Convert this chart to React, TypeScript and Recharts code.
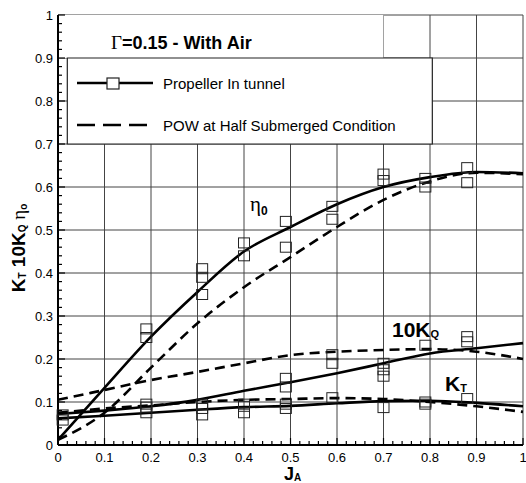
import {
  CartesianGrid,
  ComposedChart,
  Line,
  ReferenceArea,
  Scatter,
  XAxis,
  YAxis,
} from "recharts";

// advance coefficient samples used for the fitted curves
const jGrid = [0, 0.1, 0.2, 0.3, 0.4, 0.5, 0.6, 0.7, 0.8, 0.9, 1.0];

// fitted curves, propeller in tunnel (solid)
const etaTunnel = [0.012, 0.133, 0.252, 0.356, 0.45, 0.507, 0.56, 0.6, 0.623, 0.635, 0.632];
const kq10Tunnel = [0.072, 0.08, 0.09, 0.105, 0.126, 0.146, 0.167, 0.19, 0.213, 0.225, 0.237];
const ktTunnel = [0.062, 0.068, 0.075, 0.082, 0.088, 0.091, 0.097, 0.102, 0.103, 0.098, 0.09];

// POW at half submerged condition (dashed)
const etaPow = [0.012, 0.075, 0.18, 0.283, 0.367, 0.437, 0.507, 0.57, 0.613, 0.633, 0.63];
const kq10Pow = [0.105, 0.128, 0.151, 0.17, 0.19, 0.209, 0.217, 0.221, 0.223, 0.217, 0.2];
const ktPow = [0.075, 0.085, 0.092, 0.1, 0.105, 0.107, 0.109, 0.107, 0.1, 0.09, 0.077];

// measured points (open squares)
const etaPtsJ = [0.19, 0.19, 0.31, 0.31, 0.31, 0.4, 0.4, 0.49, 0.49, 0.59, 0.59, 0.7, 0.7, 0.79, 0.79, 0.88, 0.88];
const etaPtsV = [0.27, 0.25, 0.41, 0.39, 0.35, 0.47, 0.44, 0.52, 0.46, 0.555, 0.525, 0.63, 0.615, 0.62, 0.6, 0.645, 0.61];
const kqPtsJ = [0.19, 0.31, 0.4, 0.49, 0.49, 0.59, 0.59, 0.7, 0.7, 0.7, 0.79, 0.88, 0.88];
const kqPtsV = [0.095, 0.095, 0.095, 0.155, 0.135, 0.21, 0.19, 0.19, 0.175, 0.16, 0.232, 0.252, 0.24];
const ktPtsJ = [0.01, 0.01, 0.19, 0.19, 0.31, 0.31, 0.4, 0.4, 0.49, 0.49, 0.59, 0.7, 0.79, 0.79, 0.88];
const ktPtsV = [0.07, 0.058, 0.088, 0.075, 0.085, 0.07, 0.09, 0.075, 0.095, 0.085, 0.11, 0.087, 0.1, 0.095, 0.108];

const majorTicks = [0, 0.1, 0.2, 0.3, 0.4, 0.5, 0.6, 0.7, 0.8, 0.9, 1];
const allTicks = Array.from({ length: 51 }, (_, i) => i / 50);

const curve = (ys: number[]) => jGrid.map((x, i) => ({ x, y: ys[i] }));
const points = (js: number[], vs: number[]) => js.map((x, i) => ({ x, y: vs[i] }));
const markers = [
  ...points(etaPtsJ, etaPtsV),
  ...points(kqPtsJ, kqPtsV),
  ...points(ktPtsJ, ktPtsV),
];

const FONT = "'Liberation Sans', Arial, sans-serif";
const isMajor = (v: number) => Math.abs(v * 10 - Math.round(v * 10)) < 1e-6;
const fmt = (v: number) => String(+v.toFixed(1));

function BottomTick({ x, y, payload }: any) {
  const major = isMajor(payload.value);
  return (
    <g>
      <line x1={x} x2={x} y1={y} y2={y - (major ? 7 : 4)} stroke="#000" strokeWidth={1.2} />
      {major && (
        <text x={x} y={y + 17} textAnchor="middle" fontSize={13} fontFamily={FONT} fill="#000">
          {fmt(payload.value)}
        </text>
      )}
    </g>
  );
}

function TopTick({ x, y, payload }: any) {
  const major = isMajor(payload.value);
  return <line x1={x} x2={x} y1={y} y2={y + (major ? 7 : 4)} stroke="#000" strokeWidth={1.2} />;
}

function LeftTick({ x, y, payload }: any) {
  const major = isMajor(payload.value);
  return (
    <g>
      <line x1={x} x2={x + (major ? 7 : 4)} y1={y} y2={y} stroke="#000" strokeWidth={1.2} />
      {major && (
        <text x={x - 5} y={y + 4.5} textAnchor="end" fontSize={13} fontFamily={FONT} fill="#000">
          {fmt(payload.value)}
        </text>
      )}
    </g>
  );
}

function RightTick({ x, y, payload }: any) {
  const major = isMajor(payload.value);
  return <line x1={x} x2={x - (major ? 7 : 4)} y1={y} y2={y} stroke="#000" strokeWidth={1.2} />;
}

function Square({ cx, cy }: any) {
  return <rect x={cx - 5.5} y={cy - 5} width={11} height={10} fill="none" stroke="#222" strokeWidth={1} />;
}

export default function App() {
  return (
    <div style={{ position: "absolute", left: 0, top: 0, width: 526, height: 483, background: "#fff" }}>
      <ComposedChart width={526} height={483} margin={{ top: 15, right: 3, bottom: 0, left: 0 }}>
        <CartesianGrid stroke="#444" strokeWidth={1} horizontalValues={majorTicks} verticalValues={majorTicks} />
        <ReferenceArea x1={0} x2={0.7} y1={0.9} y2={1} fill="#fff" fillOpacity={1} stroke="none" />
        <ReferenceArea x1={0.02} x2={0.805} y1={0.7} y2={0.9} fill="#fff" fillOpacity={1} stroke="#222" strokeWidth={1.2} />
        <XAxis
          type="number"
          dataKey="x"
          domain={[0, 1]}
          ticks={allTicks}
          interval={0}
          height={38}
          tickSize={0}
          tickMargin={0}
          tickLine={false}
          tick={<BottomTick />}
          axisLine={{ stroke: "#000", strokeWidth: 2 }}
        />
        <XAxis
          xAxisId="top"
          orientation="top"
          type="number"
          dataKey="x"
          domain={[0, 1]}
          ticks={allTicks}
          interval={0}
          height={0}
          tickSize={0}
          tickMargin={0}
          tickLine={false}
          tick={<TopTick />}
          axisLine={{ stroke: "#000", strokeWidth: 2 }}
        />
        <YAxis
          type="number"
          domain={[0, 1]}
          ticks={allTicks}
          interval={0}
          width={58}
          tickSize={0}
          tickMargin={0}
          tickLine={false}
          tick={<LeftTick />}
          axisLine={{ stroke: "#000", strokeWidth: 2 }}
        />
        <YAxis
          yAxisId="right"
          orientation="right"
          type="number"
          domain={[0, 1]}
          ticks={allTicks}
          interval={0}
          width={0}
          tickSize={0}
          tickMargin={0}
          tickLine={false}
          tick={<RightTick />}
          axisLine={{ stroke: "#000", strokeWidth: 2 }}
        />
        <Line data={curve(etaTunnel)} dataKey="y" type="monotone" stroke="#000" strokeWidth={2.6} dot={false} isAnimationActive={false} />
        <Line data={curve(kq10Tunnel)} dataKey="y" type="monotone" stroke="#000" strokeWidth={2.6} dot={false} isAnimationActive={false} />
        <Line data={curve(ktTunnel)} dataKey="y" type="monotone" stroke="#000" strokeWidth={2.6} dot={false} isAnimationActive={false} />
        <Line data={curve(etaPow)} dataKey="y" type="monotone" stroke="#000" strokeWidth={2.6} strokeDasharray="10 6" dot={false} isAnimationActive={false} />
        <Line data={curve(kq10Pow)} dataKey="y" type="monotone" stroke="#000" strokeWidth={2.6} strokeDasharray="10 6" dot={false} isAnimationActive={false} />
        <Line data={curve(ktPow)} dataKey="y" type="monotone" stroke="#000" strokeWidth={2.6} strokeDasharray="10 6" dot={false} isAnimationActive={false} />
        <Scatter data={markers} dataKey="y" shape={<Square />} isAnimationActive={false} />
      </ComposedChart>

      <svg width={526} height={483} style={{ position: "absolute", left: 0, top: 0, pointerEvents: "none" }}>
        {/* title */}
        <text x={111} y={49} fontSize={18} fontWeight="bold" fontFamily={FONT} fill="#000">
          <tspan fontFamily="'Liberation Serif', 'Times New Roman', serif" fontWeight="normal" fontSize={19}>Γ</tspan>
          <tspan>=0.15 - With Air</tspan>
        </text>
        {/* legend */}
        <line x1={77} x2={153} y1={83} y2={83} stroke="#000" strokeWidth={2.6} />
        <rect x={107} y={78} width={12} height={11} fill="#fff" stroke="#222" strokeWidth={1.2} />
        <text x={163} y={89} fontSize={15} fontFamily={FONT} fill="#000">Propeller In tunnel</text>
        <line x1={77} x2={153} y1={125} y2={125} stroke="#000" strokeWidth={2.6} strokeDasharray="18 8" />
        <text x={163} y={131} fontSize={15} fontFamily={FONT} fill="#000">POW at Half Submerged Condition</text>
        {/* curve labels */}
        <text x={250} y={211} fontSize={21} fontFamily="'Liberation Serif', serif" fill="#000">
          η<tspan fontSize={12} fontWeight="bold" fontFamily={FONT} dy={4}>0</tspan>
        </text>
        <text x={392} y={337} fontSize={21} fontWeight="bold" fontFamily={FONT} fill="#000">
          10K<tspan fontSize={11} dy={1}>Q</tspan>
        </text>
        <text x={445} y={391} fontSize={21} fontWeight="bold" fontFamily={FONT} fill="#000">
          K<tspan fontSize={11} dy={1}>T</tspan>
        </text>
        {/* axis titles */}
        <text x={284} y={480} fontSize={18} fontWeight="bold" fontFamily={FONT} fill="#000">
          J<tspan fontSize={10} dy={1}>A</tspan>
        </text>
        <text
          transform="translate(25,248) rotate(-90)"
          textAnchor="middle"
          fontSize={19}
          fontWeight="bold"
          fontFamily={FONT}
          fill="#000"
        >
          K<tspan fontSize={10} dy={1}>T</tspan>
          <tspan dy={-1}> 10K</tspan>
          <tspan fontSize={10} dy={1}>Q</tspan>
          <tspan dy={-1} fontFamily="'Liberation Serif', serif" fontWeight="normal"> η</tspan>
          <tspan fontSize={10} dy={2}>o</tspan>
        </text>
      </svg>
    </div>
  );
}
